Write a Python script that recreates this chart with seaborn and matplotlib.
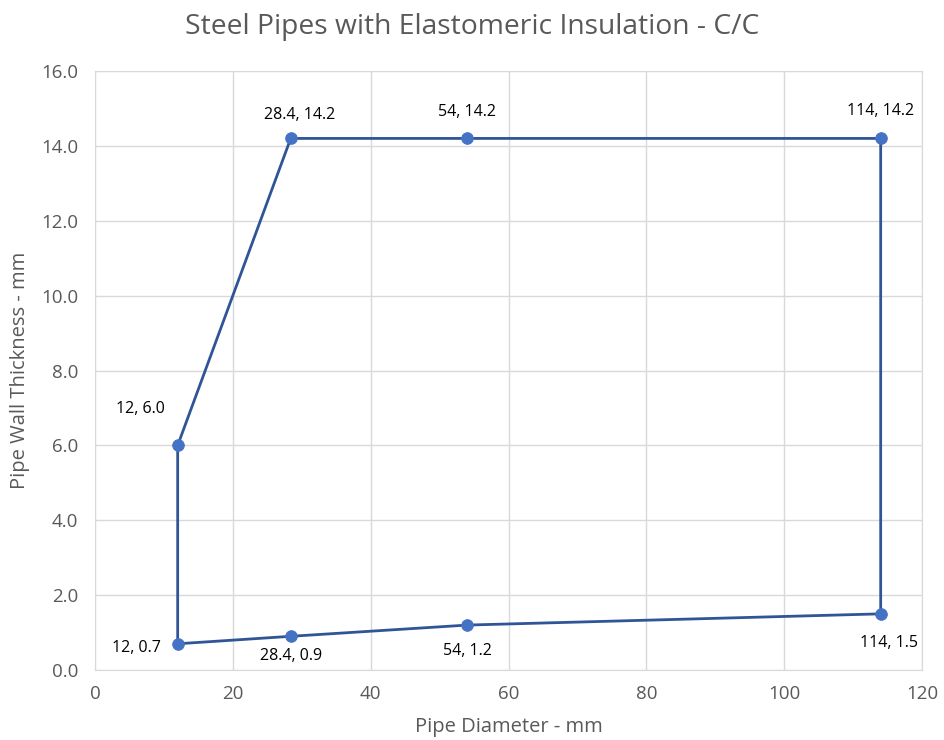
import matplotlib
matplotlib.use("Agg")
import matplotlib.pyplot as plt
import seaborn as sns
import pandas as pd

# closed outline of the valid range
diameter = [12, 28.4, 54, 114, 114, 54, 28.4, 12, 12]
thickness = [0.7, 0.9, 1.2, 1.5, 14.2, 14.2, 14.2, 6.0, 0.7]
labels = ["12, 0.7", "28.4, 0.9", "54, 1.2", "114, 1.5",
          "114, 14.2", "54, 14.2", "28.4, 14.2", "12, 6.0"]
x_ticks = [0, 20, 40, 60, 80, 100, 120]
y_ticks = [0, 2, 4, 6, 8, 10, 12, 14, 16]

# label offsets in points
offsets = [(-30, -3), (0, -14), (0, -19), (6, -21),
           (0, 20), (0, 19), (6.5, 17), (-27, 26)]

df = pd.DataFrame({"d": diameter, "t": thickness})

sns.set_style("white")
plt.rcParams["font.family"] = ["Open Sans", "DejaVu Sans"]

fig = plt.figure(figsize=(9.45, 7.4), dpi=100)
ax = fig.add_axes([0.1005, 0.0946, 0.8752, 0.8094])

sns.lineplot(data=df, x="d", y="t", sort=False, estimator=None,
             color="#2F5597", linewidth=2, ax=ax)
sns.scatterplot(data=df.iloc[:-1], x="d", y="t", color="#4472C4",
                s=70, edgecolor="#4472C4", zorder=3, ax=ax)

for xi, yi, lab, off in zip(diameter, thickness, labels, offsets):
    ax.annotate(lab, (xi, yi), xytext=off, textcoords="offset points",
                ha="center", va="center", fontsize=11.5, color="#000000")

ax.set_xlim(0, 120)
ax.set_ylim(0, 16)
ax.set_xticks(x_ticks)
ax.set_yticks(y_ticks)
ax.set_yticklabels([f"{v:.1f}" for v in y_ticks])
ax.grid(True, color="#D9D9D9", linewidth=1)
ax.set_axisbelow(True)
for s in ax.spines.values():
    s.set_color("#D9D9D9")
ax.tick_params(axis="both", colors="#595959", labelsize=13.5, length=0)
ax.tick_params(axis="x", pad=11)
ax.tick_params(axis="y", pad=12)

ax.set_xlabel("Pipe Diameter - mm", fontsize=14.5, color="#595959", labelpad=10)
ax.set_ylabel("Pipe Wall Thickness - mm", fontsize=14.5, color="#595959", labelpad=8)
fig.text(0.5, 0.963, "Steel Pipes with Elastomeric Insulation - C/C",
         ha="center", va="center", fontsize=20.3, color="#595959")

fig.savefig("out.png", dpi=100)
